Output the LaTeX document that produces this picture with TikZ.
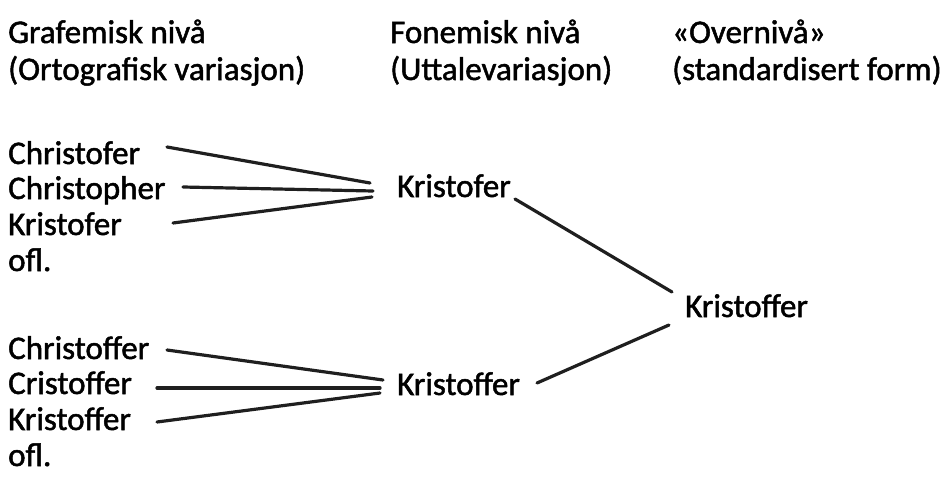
\documentclass[tikz,border=0pt]{standalone}
\usepackage{fontspec}
\setmainfont{Carlito}
\newfontfamily\lblfont{Carlito}[FakeBold=1.5]
\begin{document}
\begin{tikzpicture}[x=1pt,y=-1pt,
  lbl/.style={anchor=base west,inner sep=0pt,font=\lblfont\fontsize{33}{39}\selectfont},
  conn/.style={line width=3.2pt,draw=black!88,line cap=round}]
\useasboundingbox (0,0) rectangle (951,477);
% headers
\node[lbl] (h1a) at (8,43) {Grafemisk nivå};
\node[lbl] (h1b) at (8,80) {(Ortografisk variasjon)};
\node[lbl] (h2a) at (390,43) {Fonemisk nivå};
\node[lbl] (h2b) at (390,80) {(Uttalevariasjon)};
\node[lbl] (h3a) at (672,43) {«Overnivå»};
\node[lbl] (h3b) at (672,80) {(standardisert form)};
% top group
\node[lbl] (a1) at (8,164) {Christofer};
\node[lbl] (a2) at (8,199) {Christopher};
\node[lbl] (a3) at (8,235) {Kristofer};
\node[lbl] (a4) at (8,271) {ofl.};
% bottom group
\node[lbl] (b1) at (8,359) {Christoffer};
\node[lbl] (b2) at (8,394) {Cristoffer};
\node[lbl] (b3) at (8,430) {Kristoffer};
\node[lbl] (b4) at (8,466) {ofl.};
% phonemic
\node[lbl] (p1) at (397,197) {Kristofer};
\node[lbl] (p2) at (397,395) {Kristoffer};
% standard
\node[lbl] (s) at (685,317) {Kristoffer};
% endpoints
\coordinate (a1e) at (167,147);
\coordinate (a2e) at (183,187);
\coordinate (a3e) at (173,223);
\coordinate (p1a) at (370,183);
\coordinate (p1b) at (373,191);
\coordinate (p1c) at (372,197);
\coordinate (b1e) at (167,350);
\coordinate (b2e) at (157,388);
\coordinate (b3e) at (157,422);
\coordinate (p2a) at (383,380);
\coordinate (p2b) at (380,388);
\coordinate (p2c) at (380,393);
\coordinate (p1o) at (515,199);
\coordinate (p2o) at (537,383);
\coordinate (sa) at (672,292);
\coordinate (sb) at (669,325);
\draw[conn] (a1e) -- (p1a);
\draw[conn] (a2e) -- (p1b);
\draw[conn] (a3e) -- (p1c);
\draw[conn] (b1e) -- (p2a);
\draw[conn] (b2e) -- (p2b);
\draw[conn] (b3e) -- (p2c);
\draw[conn] (p1o) -- (sa);
\draw[conn] (p2o) -- (sb);
\end{tikzpicture}
\end{document}
